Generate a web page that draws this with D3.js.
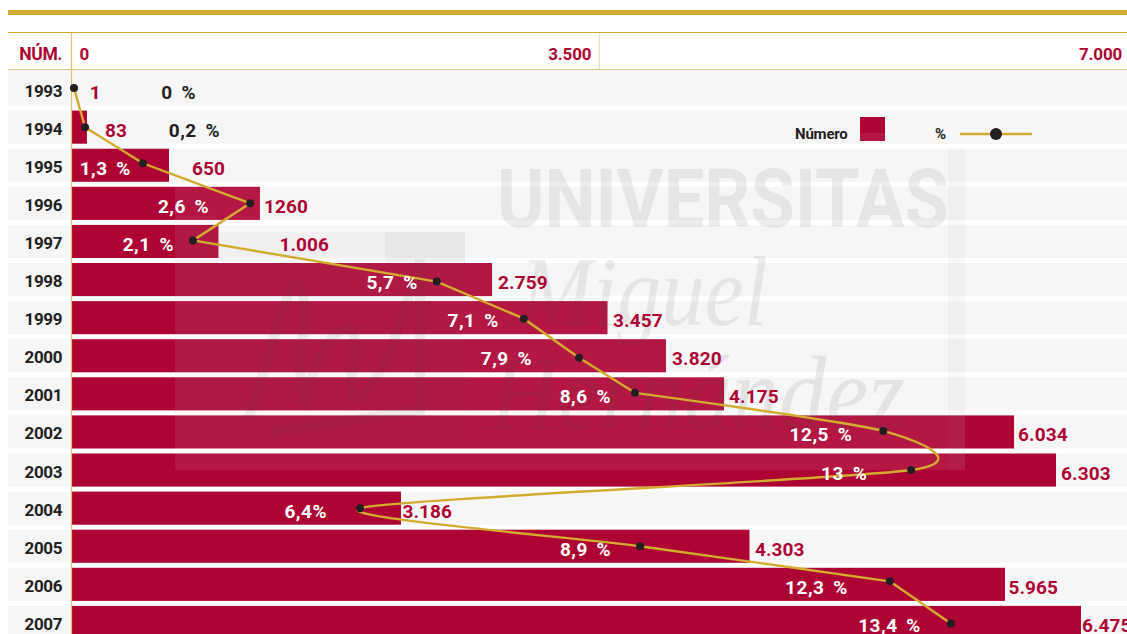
<!DOCTYPE html>
<html>
<head>
<meta charset="utf-8">
<script src="https://cdn.jsdelivr.net/npm/d3@7"></script>
<style>
  html, body { margin: 0; padding: 0; background: #fff; overflow: hidden; }
  text { font-family: "Roboto", sans-serif; font-weight: bold; }
</style>
</head>
<body>
<div id="graph"></div>
<script>
// data
const years = ["1993","1994","1995","1996","1997","1998","1999","2000","2001","2002","2003","2004","2005","2006","2007"];
const numberLabels = ["1","83","650","1260","1.006","2.759","3.457","3.820","4.175","6.034","6.303","3.186","4.303","5.965","6.475"];
const pctLabels = ["0 %","0,2 %","1,3 %","2,6 %","2,1 %","5,7 %","7,1 %","7,9 %","8,6 %","12,5 %","13 %","6,4%","8,9 %","12,3 %","13,4 %"];
// the bars and dots of the original do not quite follow their own labels, so these are measured lengths
const barPlotted = [1, 99, 625, 1208, 942, 2696, 3436, 3811, 4183, 6042, 6311, 2112, 4346, 5984, 6471];
const pctPlotted = [0, 0.17, 1.06, 2.71, 1.83, 5.58, 6.92, 7.77, 8.63, 12.45, 12.88, 4.4, 8.71, 12.55, 13.49];
const headerTicks = [0, 3500, 7000];
const headerTickLabels = ["0", "3.500", "7.000"];

const width = 1127, height = 634;
const red = "#ae0433", gold = "#d3ac2f", dark = "#231f20", rowGrey = "#f6f6f6";
const x0 = 71.5;

// label and dot nudges, px (layout only)
const numberShift = [18, 18, 23, 4, 61, 6, 5.5, 6, 5, 4, 5, 1.5, 5.5, 3.5, 1];
const pctGap = [-122, -135, 12, 41, 19, 19, 25, 47, 24, 31, 44, 33, 29, 42, 30];
const dotNudge = [-1, 0, -2, 0, -1, 2, 1, 2, -1, -1, 0, 0, 0, -3, 1];

const svg = d3.select("#graph").append("svg")
    .attr("width", width)
    .attr("height", height)
    .style("display", "block");

// scales
const x = d3.scaleLinear().domain([0, 7000]).range([x0, x0 + 1092]);
const headerX = d3.scaleLinear().domain([0, 7000]).range([x0, width]);
const xPct = d3.scaleLinear().domain([0, 14]).range([74, 984]);
const y = d3.scaleBand().domain(years).range([72.5, 72.5 + 15 * 38.1 - 5]).paddingInner(5 / 38.1);

// top rules
svg.append("rect").attr("x", 8).attr("y", 10).attr("width", width - 8).attr("height", 5).attr("fill", gold);
svg.append("line").attr("x1", 8).attr("x2", width).attr("y1", 32.5).attr("y2", 32.5).attr("stroke", gold);
svg.append("line").attr("x1", 8).attr("x2", width).attr("y1", 69.5).attr("y2", 69.5).attr("stroke", "#dcc67e").attr("stroke-width", 1.2);

// header
svg.append("text").attr("x", 62).attr("y", 60).attr("text-anchor", "end")
    .attr("fill", red).attr("font-size", 17.5).attr("letter-spacing", -0.4).text("NÚM.");
svg.append("line").attr("x1", headerX(3500)).attr("x2", headerX(3500)).attr("y1", 33).attr("y2", 69).attr("stroke", "#e6d9a8");
svg.selectAll(".tick-label").data(headerTicks).join("text")
    .attr("class", "tick-label")
    .attr("x", (d, i) => headerX(d) + [8, -8, -5][i])
    .attr("y", 60)
    .attr("text-anchor", (d, i) => i == 0 ? "start" : "end")
    .attr("fill", red)
    .attr("font-size", 17)
    .attr("letter-spacing", -0.2)
    .text((d, i) => headerTickLabels[i]);

// grey rows
svg.append("g").selectAll("rect").data(years).join("rect")
    .attr("x", 8)
    .attr("y", (d, i) => i == 0 ? 70 : y(d))
    .attr("width", width - 8)
    .attr("height", (d, i) => i == 0 ? y(d) + y.bandwidth() - 70 : y.bandwidth())
    .attr("fill", rowGrey);

// bars
svg.append("g").selectAll("rect").data(barPlotted).join("rect")
    .attr("x", x0)
    .attr("y", (d, i) => y(years[i]))
    .attr("width", d => x(d) - x0)
    .attr("height", y.bandwidth())
    .attr("fill", red);

// legend swatch goes under the watermark
svg.append("rect").attr("x", 860).attr("y", 117).attr("width", 25).attr("height", 24).attr("fill", red);

// watermark, sits on top of the bars
const mark = svg.append("g");
mark.append("rect").attr("x", 175).attr("y", 133).attr("width", 790).attr("height", 337)
    .attr("fill", "#fff").attr("opacity", 0.08);
mark.append("rect").attr("x", 948).attr("y", 150).attr("width", 17).attr("height", 320)
    .attr("fill", "#888").attr("opacity", 0.06);
mark.append("rect").attr("x", 175).attr("y", 232).attr("width", 290).attr("height", 208)
    .attr("fill", "#555").attr("opacity", 0.035);
mark.append("rect").attr("x", 385).attr("y", 232).attr("width", 80).attr("height", 30)
    .attr("fill", "#555").attr("opacity", 0.05);
mark.append("path")
    .attr("d", "M248 420 C275 340 290 270 300 285 C312 305 292 390 305 400 C320 340 345 320 352 330 C362 350 340 400 358 398 C385 380 405 310 420 260 L420 410 L272 432")
    .attr("fill", "none").attr("stroke", "#444").attr("stroke-width", 10).attr("opacity", 0.08);
mark.append("text").attr("x", 497).attr("y", 227)
    .attr("font-size", 82).attr("textLength", 452).attr("lengthAdjust", "spacingAndGlyphs")
    .attr("fill", "#444").attr("opacity", 0.09).text("UNIVERSITAS");
mark.append("text").attr("x", 520).attr("y", 325)
    .style("font-family", "'Liberation Serif', serif").style("font-weight", "normal").style("font-style", "italic")
    .attr("font-size", 100).attr("textLength", 248).attr("lengthAdjust", "spacingAndGlyphs")
    .attr("fill", "#444").attr("opacity", 0.09).text("Miguel");
mark.append("text").attr("x", 490).attr("y", 429)
    .style("font-family", "'Liberation Serif', serif").style("font-weight", "normal").style("font-style", "italic")
    .attr("font-size", 105).attr("textLength", 415).attr("lengthAdjust", "spacingAndGlyphs")
    .attr("fill", "#444").attr("opacity", 0.1).text("Hernández");

// axis line
svg.append("line").attr("x1", x0).attr("x2", x0).attr("y1", 33).attr("y2", height)
    .attr("stroke", "#e0c468").attr("stroke-width", 1.2);

// year labels
svg.append("g").selectAll("text").data(years).join("text")
    .attr("x", 62)
    .attr("y", d => y(d) + y.bandwidth() / 2 + 7.5)
    .attr("text-anchor", "end")
    .attr("fill", dark)
    .attr("font-size", 17)
    .attr("letter-spacing", -0.4)
    .text(d => d);

// number labels
svg.append("g").selectAll("text").data(barPlotted).join("text")
    .attr("x", (d, i) => x(d) + numberShift[i])
    .attr("y", (d, i) => y(years[i]) + y.bandwidth() / 2 + 9.5)
    .attr("fill", red)
    .attr("font-size", 19)
    .attr("letter-spacing", 0.1)
    .text((d, i) => numberLabels[i]);

// percent line: straight up to 2001, smooth with the overshoot to 2006, straight to the end
const pts = years.map((d, i) => [xPct(pctPlotted[i]), y(d) + y.bandwidth() / 2 + dotNudge[i]]);
const straight = d3.line();
const smooth = d3.line().curve(d3.curveCardinal.tension(0.3));
[straight(pts.slice(0, 9)), smooth(pts.slice(8, 14)), straight(pts.slice(13))].forEach(function(p) {
    svg.append("path").attr("d", p)
        .attr("fill", "none").attr("stroke", gold).attr("stroke-width", 2.4);
});

// percent labels
svg.append("g").selectAll("text").data(pctLabels).join("text")
    .attr("x", (d, i) => pts[i][0] - pctGap[i])
    .attr("y", (d, i) => y(years[i]) + y.bandwidth() / 2 + 9.5)
    .attr("text-anchor", "end")
    .attr("fill", (d, i) => i < 2 ? dark : "#fff")
    .attr("font-size", 19)
    .attr("letter-spacing", 0.5)
    .attr("word-spacing", 3.5)
    .text(d => d);

// dots
svg.append("g").selectAll("circle").data(pts).join("circle")
    .attr("cx", d => d[0])
    .attr("cy", d => d[1])
    .attr("r", 4)
    .attr("fill", dark);

// legend
svg.append("text").attr("x", 795).attr("y", 139).attr("fill", dark).attr("font-size", 15).attr("letter-spacing", -0.2).text("Número");
svg.append("text").attr("x", 935).attr("y", 139).attr("fill", dark).attr("font-size", 15).text("%");
svg.append("line").attr("x1", 960).attr("x2", 1032).attr("y1", 134).attr("y2", 134).attr("stroke", gold).attr("stroke-width", 2.5);
svg.append("circle").attr("cx", 996).attr("cy", 134).attr("r", 6).attr("fill", dark);
</script>
</body>
</html>
